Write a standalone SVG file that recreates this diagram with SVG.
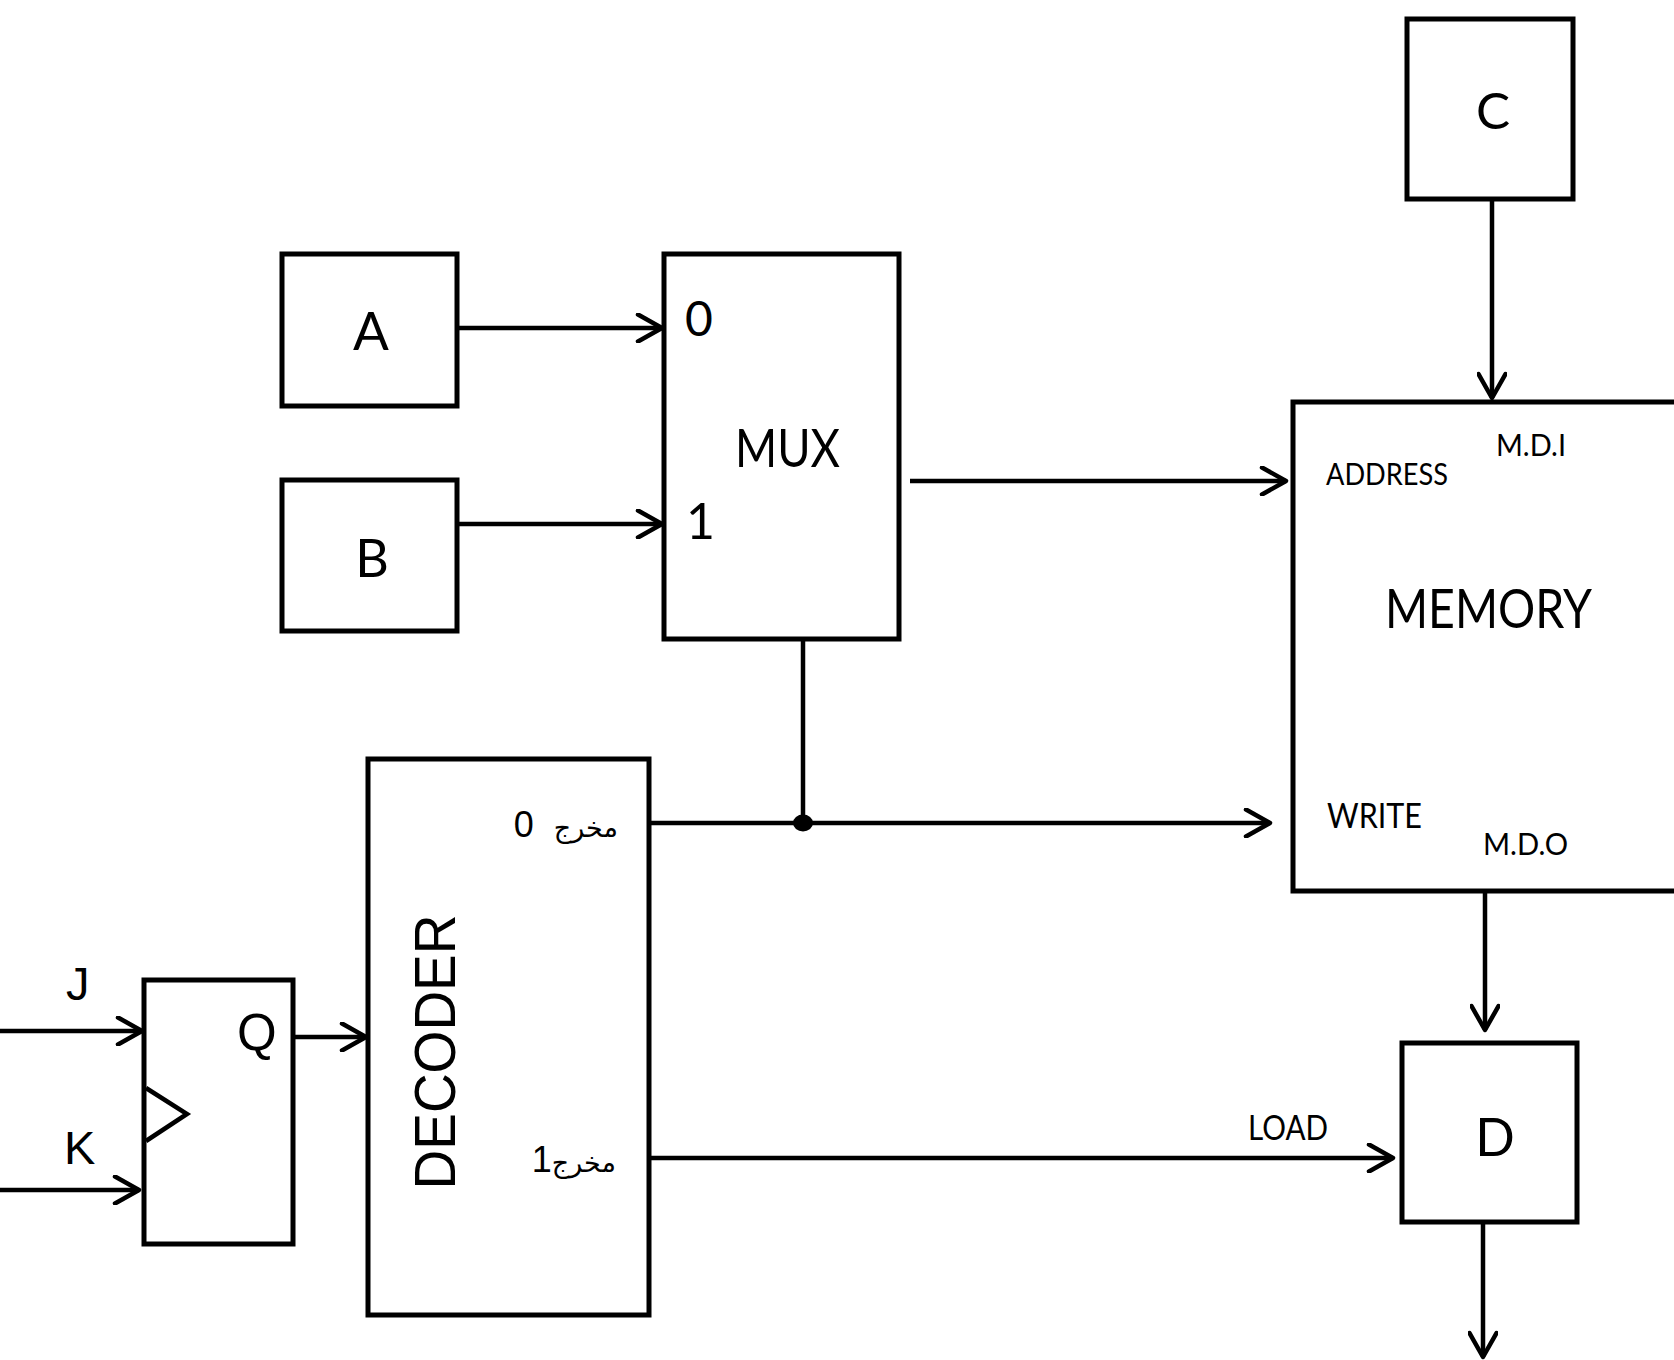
<svg xmlns="http://www.w3.org/2000/svg" width="1674" height="1360" viewBox="0 0 1674 1360">
<style>
.box{fill:#fff;stroke:#000;stroke-width:5}
.wire{fill:none;stroke:#000;stroke-width:4.5}
.cal{font-family:Lato,"Open Sans","Liberation Sans",sans-serif;fill:#000}
.ari{font-family:"Liberation Sans",Arial,sans-serif;fill:#000}
.arab{font-family:"DejaVu Sans","Noto Sans",sans-serif;fill:#000}
</style>
<defs>
<marker id="arr" markerUnits="userSpaceOnUse" viewBox="0 0 30 30" markerWidth="30" markerHeight="30" refX="27" refY="15" orient="auto">
<path d="M3,1.5 L27,15 L3,28.5" fill="none" stroke="#000" stroke-width="4.5" stroke-linejoin="round" stroke-linecap="round"/>
</marker>
</defs>
<rect width="1674" height="1360" fill="#fff"/>

<g id="connectors">
<path class="wire" d="M457,328 L662,328" marker-end="url(#arr)"/>
<path class="wire" d="M457,524 L662,524" marker-end="url(#arr)"/>
<path class="wire" d="M910,481 L1286,481" marker-end="url(#arr)"/>
<path class="wire" d="M1492,199 L1492,398" marker-end="url(#arr)"/>
<path class="wire" d="M803,639 L803,823"/>
<path class="wire" d="M649,823 L1270,823" marker-end="url(#arr)"/>
<ellipse cx="803" cy="823" rx="10" ry="8.5" fill="#000"/>
<path class="wire" d="M0,1031 L142,1031" marker-end="url(#arr)"/>
<path class="wire" d="M0,1190 L139,1190" marker-end="url(#arr)"/>
<path class="wire" d="M293,1037 L366,1037" marker-end="url(#arr)"/>
<path class="wire" d="M649,1158 L1393,1158" marker-end="url(#arr)"/>
<text class="cal" x="1248" y="1140" font-size="34" textLength="80" lengthAdjust="spacingAndGlyphs">LOAD</text>
<path class="wire" d="M1485,891 L1485,1030" marker-end="url(#arr)"/>
<path class="wire" d="M1483,1222 L1483,1357" marker-end="url(#arr)"/>
</g>

<g id="node-A">
<rect class="box" x="282" y="254" width="175" height="152"/>
<text class="cal" x="371" y="350" font-size="53" text-anchor="middle">A</text>
</g>
<g id="node-B">
<rect class="box" x="282" y="480" width="175" height="151"/>
<text class="cal" x="372" y="577" font-size="52" text-anchor="middle">B</text>
</g>
<g id="node-MUX">
<rect class="box" x="664" y="254" width="235" height="385"/>
<text class="cal" x="685" y="336" font-size="48">0</text>
<text class="cal" x="686" y="539" font-size="50">1</text>
<text class="cal" x="735" y="467" font-size="53" textLength="105" lengthAdjust="spacingAndGlyphs">MUX</text>
</g>
<g id="node-C">
<rect class="box" x="1407" y="19" width="166" height="180"/>
<text class="cal" x="1493" y="129" font-size="51" text-anchor="middle">C</text>
</g>
<g id="node-MEMORY">
<rect class="box" x="1293" y="402" width="390" height="489"/>
<text class="cal" x="1496" y="456" font-size="31" textLength="70" lengthAdjust="spacingAndGlyphs">M.D.I</text>
<text class="cal" x="1326" y="485" font-size="31" textLength="122" lengthAdjust="spacingAndGlyphs">ADDRESS</text>
<text class="cal" x="1385" y="628" font-size="54" textLength="207" lengthAdjust="spacingAndGlyphs">MEMORY</text>
<text class="cal" x="1327" y="828" font-size="34" textLength="95" lengthAdjust="spacingAndGlyphs">WRITE</text>
<text class="cal" x="1483" y="855" font-size="31" textLength="85" lengthAdjust="spacingAndGlyphs">M.D.O</text>
</g>
<g id="node-DECODER">
<rect class="box" x="368" y="759" width="281" height="556"/>
<text class="ari" transform="translate(455,1052) rotate(-90)" font-size="57" text-anchor="middle" textLength="275" lengthAdjust="spacingAndGlyphs">DECODER</text>
<text class="ari" x="618" y="837" text-anchor="end" style="white-space:pre"><tspan class="arab" font-size="27">مخرج</tspan><tspan font-size="36">  0</tspan></text>
<text class="ari" x="616" y="1172" text-anchor="end"><tspan class="arab" font-size="27">مخرج</tspan><tspan font-size="36">1</tspan></text>
</g>
<g id="node-FF">
<rect class="box" x="144" y="980" width="149" height="264"/>
<path d="M146,1088 L187,1114 L146,1141" fill="none" stroke="#000" stroke-width="4.5"/>
<text class="ari" x="237" y="1050" font-size="51">Q</text>
<text class="ari" x="66" y="1000" font-size="47">J</text>
<text class="ari" x="64" y="1164" font-size="47">K</text>
</g>
<g id="node-D">
<rect class="box" x="1402" y="1043" width="175" height="179"/>
<text class="cal" x="1495" y="1156" font-size="52" text-anchor="middle">D</text>
</g>
</svg>
